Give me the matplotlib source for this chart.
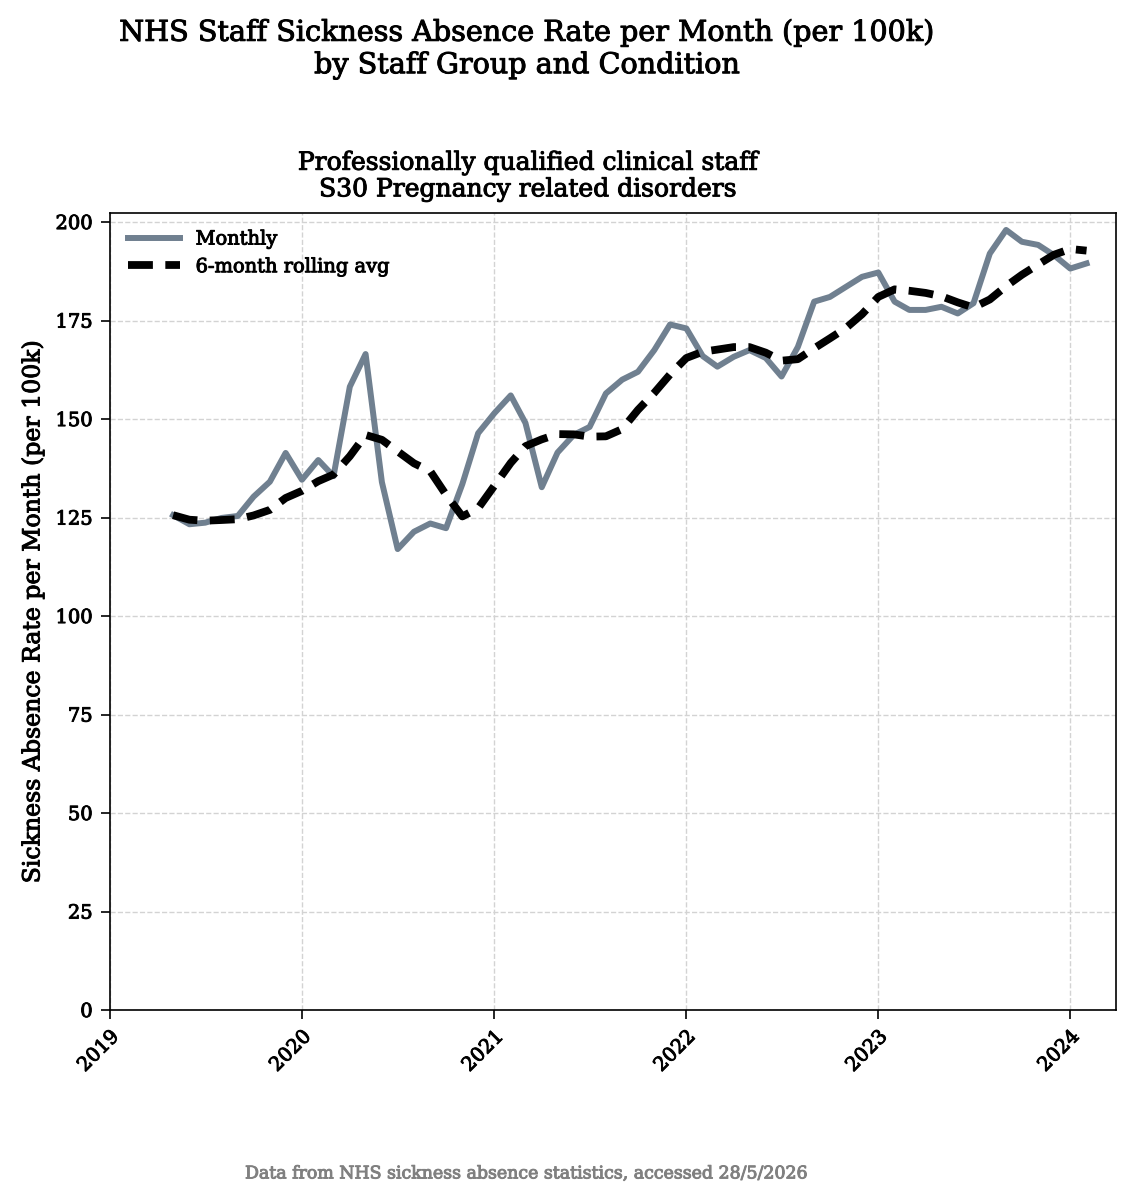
import matplotlib
matplotlib.use("Agg")
from matplotlib import pyplot as plt
import matplotlib.dates as mdates
import matplotlib.patheffects as pe
import numpy as np
import pandas as pd

plt.rcParams['font.family'] = ['DejaVu Serif']

# monthly rate per 100k, May 2019 .. Feb 2024
months = pd.date_range("2019-05-01", "2024-02-01", freq="MS")
monthly = [125.6, 123.3, 123.7, 124.9, 125.4, 130.3, 134.1, 141.4,
           134.6, 139.6, 135.5, 158.2, 166.5, 134.0, 117.0, 121.4,
           123.5, 122.3, 133.5, 146.4, 151.5, 156.0, 149.0, 132.7,
           141.5, 146.0, 148.0, 156.5, 160.0, 162.0, 167.5, 174.0,
           173.0, 166.0, 163.3, 165.8, 167.5, 165.5, 160.8, 168.3,
           179.8, 181.0, 183.6, 186.1, 187.2, 179.8, 177.7, 177.7,
           178.5, 176.8, 179.4, 192.0, 198.0, 195.0, 194.2, 191.6,
           188.2, 189.5]

s = pd.Series(monthly, index=months)
rolling = s.rolling(6, min_periods=1).mean()

fig = plt.figure(figsize=(11.33, 12), dpi=100)
ax = fig.add_axes([0.0971, 0.1583, 0.8879, 0.6642])

ax.plot(s.index, s.values, color='slategray', lw=4.3, label='Monthly')
ax.plot(rolling.index, rolling.values, color='black', lw=5.6,
        linestyle=(0, (3.2, 1.6)), label='6-month rolling avg')

ax.set_xlim(pd.Timestamp("2019-01-01"), pd.Timestamp("2024-03-28"))
ax.set_ylim(0, 202.3)
ax.set_yticks(np.arange(0, 201, 25))
ax.xaxis.set_major_locator(mdates.YearLocator())
ax.xaxis.set_major_formatter(mdates.DateFormatter('%Y'))
plt.setp(ax.get_xticklabels(), rotation=45, ha='right', rotation_mode='anchor')
ax.tick_params(labelsize=14, length=6.5, width=1.2, pad=6)
for sp in ax.spines.values():
    sp.set_linewidth(1.2)
ax.grid(True, linestyle='--', color='lightgray', lw=1)

ax.set_ylabel('Sickness Absence Rate per Month (per 100k)', fontsize=17, labelpad=8)
ax.set_title('Professionally qualified clinical staff\nS30 Pregnancy related disorders',
             fontsize=18, pad=12, x=0.4155)
fig.suptitle('NHS Staff Sickness Absence Rate per Month (per 100k)\nby Staff Group and Condition',
             fontsize=20.6, x=0.465, y=0.985)
leg = ax.legend(loc='upper left', frameon=False, fontsize=14, handlelength=2.7)
foot = fig.text(0.465, 0.018, 'Data from NHS sickness absence statistics, accessed 28/5/2026',
                ha='center', fontsize=12.5, color='gray')

# slightly heavier text strokes
texts = (ax.get_xticklabels() + ax.get_yticklabels() + leg.get_texts()
         + [ax.yaxis.label, ax.title, fig._suptitle, foot])
for t in texts:
    t.set_path_effects([pe.withStroke(linewidth=0.7, foreground=t.get_color())])

fig.savefig('out.png', dpi=100)
